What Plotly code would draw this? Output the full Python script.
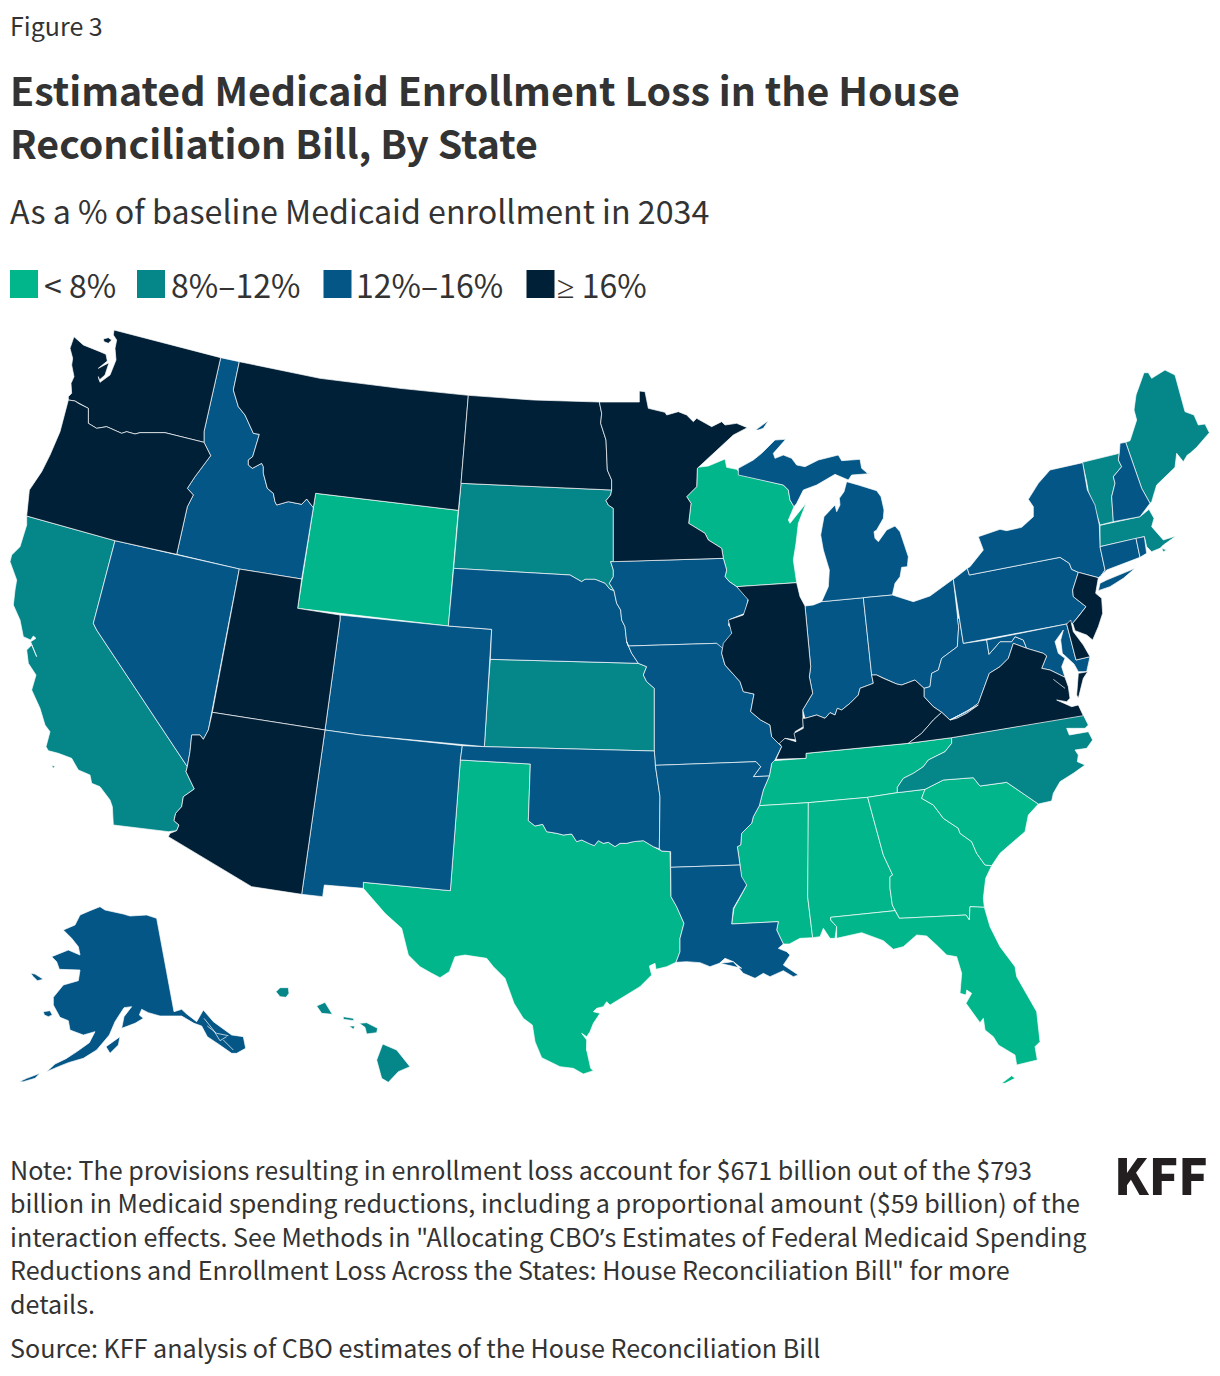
import plotly.graph_objects as go

FONT = "Noto Sans CJK SC"
ALT = "<span style=\"font-family:'Noto Sans'\">%s</span>"
INK = "#333333"
BUCKETS = ["< 8%", "8%–12%", "12%–16%", ALT % "≥" + " 16%"]
COLORS = ["#00B68A", "#058789", "#045687", "#002037"]
LOW = ["WY", "TX", "WI", "TN", "MS", "AL", "GA", "SC", "FL"]
MID = ["CA", "SD", "KS", "NC", "MA", "VT", "ME", "HI"]
HIGH = ["ID", "NV", "CO", "NM", "NE", "IA", "MO", "OK", "AR", "LA", "IN", "MI", "OH", "WV", "PA", "NY", "CT", "NH", "RI", "MD", "AK"]
TOP = ["WA", "OR", "MT", "ND", "MN", "UT", "AZ", "IL", "KY", "VA", "NJ", "DE"]
MEMBERS = [LOW, MID, HIGH, TOP]

TITLE_LINES = ["Estimated Medicaid Enrollment Loss in the House", "Reconciliation Bill, By State"]
SUBTITLE = "As a % of baseline Medicaid enrollment in 2034"
NOTE_LINES = [
    "Note: The provisions resulting in enrollment loss account for $671 billion out of the $793",
    "billion in Medicaid spending reductions, including a proportional amount ($59 billion) of the",
    "interaction effects. See Methods in \"Allocating CBO" + ALT % "’" + "s Estimates of Federal Medicaid Spending",
    "Reductions and Enrollment Loss Across the States: House Reconciliation Bill\" for more",
    "details.",
]
SOURCE = "Source: KFF analysis of CBO estimates of the House Reconciliation Bill"

# Survey sheets the outlines were traced on: sheet origin in page pixels, traced at 3x.
SHEETS = {"A": (0, 325), "B": (0, 620), "C": (400, 380), "D": (360, 680), "E": (720, 410),
          "F": (720, 700), "G": (1050, 360), "H": (950, 440), "I": (0, 890)}

def p(sheet, *v):
    ox, oy = SHEETS[sheet]
    return [(ox + v[i] / 3, oy + v[i + 1] / 3) for i in range(0, len(v), 2)]

OUTLINES = {
 "WA": [p("A",342,15,662,98,612,320,612,352,495,323,460,323,420,323,405,327,380,320,365,325,320,305,290,310,265,295,265,250,235,235,225,228,205,225,205,215,215,205,213,175,222,155,215,120,218,100,210,70,222,35,250,60,300,80,318,88,322,108,295,130,327,113,315,150,298,165,295,155,300,172,330,150,348,105,345,70,350,45,340,30),
        p("A",310,42,325,38,335,45,325,55,312,50)],
 "OR": [p("A",205,225,225,228,235,235,265,250,265,295,290,310,320,305,365,325,380,320,405,327,420,323,460,323,495,323,612,352,632,392,585,455,562,490,580,510,562,545,530,688,345,647,80,573,85,530,88,495,125,440,150,390,180,320,195,265)],
 "ID": [p("A",662,98,718,110,700,195,715,245,735,270,760,325,778,328,758,395,745,405,745,420,757,430,785,415,790,425,790,445,802,490,820,505,825,530,830,540,865,530,890,535,905,538,920,522,940,548,905,762,718,732,530,688,562,545,580,510,562,490,585,455,632,392,612,352,612,320)],
 "MT": [p("A",718,110,960,160,1200,190)+p("C",205,46,183,310,175,391)+p("A",947,505,940,548,920,522,905,538,890,535,865,530,830,540,825,530,820,505,802,490,790,445,790,425,785,415,757,430,745,420,745,405,758,395,778,328,760,325,735,270,715,245,700,195)],
 "WY": [p("A",947,505)+p("C",175,391,145,738)+p("A",893,850)],
 "NV": [p("A",345,647,718,732)+p("B",688,0,637,277,625,330,610,358,600,345,575,345,570,395,562,440,290,30,280,10)],
 "CA": [p("A",80,573,345,647)+p("B",280,10,290,30,562,440,558,455,570,480,583,507,550,530,545,560,527,580,522,602,537,615,530,632,505,635,340,615,337,560,330,540,300,500,275,490,270,465,235,450,215,415,175,400,145,392,138,380,150,335,135,315,120,265,95,210,108,165,85,130,80,90,95,75,110,110,92,65,108,55,100,48,92,60,70,50,60,0)+p("A",40,840,45,795,50,765,30,710,35,690,60,665,80,600),
        p("B",155,437,165,438,160,445)],
 "AZ": [p("B",637,277,975,330,905,823,755,800,505,650,510,640,530,632,537,615,522,602,527,580,545,560,550,530,583,507,570,480,558,455,562,440,570,395,575,345,600,345,610,358,625,330)],
 "UT": [p("A",718,732,905,762,893,850,1020,870)+p("B",1020,0,975,330,637,277,688,0)],
 "CO": [p("A",1020,870)+p("C",145,738,275,748)+p("D",386,0,373,200,0,165)+p("B",975,330,1020,0)],
 "NM": [p("B",975,330)+p("D",0,165,307,197,301,240,271,632,10,607)+p("B",1090,805,973,795,968,830,905,823)],
 "TX": [p("D",10,607,271,632,301,240,511,252,505,422,525,438,548,433,560,455,590,460,610,465,635,462,650,485,665,480,690,492,703,497,715,482,730,490,745,487,765,500,780,490,800,490,820,485,850,482,880,500,905,513,930,515,933,650,950,680,972,730,960,775,960,815,948,847,920,860,888,868,885,850,868,858,875,885,840,920,790,950,750,975,740,965,730,980,710,985,700,995,720,1000,700,1030,690,1055,680,1070,665,1060,680,1080,680,1110,692,1165,700,1172,670,1182,640,1165,600,1160,545,1133,525,1085,517,1035,490,1015,462,970,435,895,400,860,380,835,315,825,285,830,268,875,240,893,215,880,180,860,145,825,135,785,125,745,75,700,40,660,10,625)],
 "KS": [p("C",271,838,715,850,740,860,730,885)+p("D",860,5,883,25,883,213,373,200,386,0)],
 "NE": [p("C",161,565,510,585,545,605,555,598,585,598,615,610,630,628,642,632,650,670,662,690,665,720,675,740,680,785,695,820,715,850,271,838,275,748,145,738)],
 "SD": [p("C",183,310,635,330,632,345,618,362,625,375,640,385,640,545,632,545,640,570,640,590,628,610,642,632,630,628,615,610,585,598,555,598,545,605,510,585,161,565,175,391)],
 "ND": [p("C",205,46,400,60,598,66,605,100,602,130,618,180,622,270,635,300,635,330,183,310)],
 "MN": [p("C",598,66,718,66,718,33,735,35,745,85,795,97,800,105,835,95,860,105,880,125,890,115,935,140,965,125,975,135,1010,130,1042,143,1000,165,945,215,900,258,892,265,890,320,860,350,873,370,866,430,915,460,925,480,965,505,970,535,640,545,640,385,625,375,618,362,632,345,635,330,635,300,622,270,618,180,602,130,605,100)],
 "IA": [p("C",632,545,970,535,980,570,975,590,988,605,1010,620,1045,655,1035,700,990,718,985,735,998,750,990,780,975,790,968,810,950,790,685,798,680,785,675,740,665,720,662,690,650,670,642,632,628,610,640,590,640,570)],
 "WI": [p("C",892,262,925,258,975,237,980,262,1010,268,1025,285)+p("E",190,225,205,240,210,270,222,290,205,330,210,340,258,280,235,340,228,400,220,450,230,518,50,530)+p("C",1010,620,988,605,975,590,980,570,970,535,965,505,925,480,915,460,866,430,873,370,860,350,890,320)],
 "MI": [p("E",55,175,100,150,125,130,165,90,197,88,160,130,165,145,190,135,215,145,230,165,255,170,295,150,355,135,365,152,420,148,425,175,445,192,463,190,395,195,385,210,345,193,290,225,250,240,230,280,222,290,210,270,205,240,190,225,55,195),
        p("E",372,245,380,215,415,225,470,242,483,260,492,300,490,325,470,360,462,365,465,385,475,395,500,360,525,348,540,365,555,410,565,440,562,470,545,472,540,500,525,520,517,555,430,563,305,575,325,530,328,480,310,420,302,375,312,320,345,285,350,305,360,285,358,265),
        p("E",107,60,145,32,130,55,115,60)],
 "IN": [p("E",255,588,280,585,305,575,430,563,455,795,460,820,420,835,415,855,390,880,365,900,352,895,345,915,330,908,315,925,290,915,255,925,248,900,278,850,268,800,272,770)],
 "IL": [p("E",50,530,230,518,240,560,255,588,272,770,268,800,278,850,248,900,250,950,225,965,230,990,195,985,180,1005,155,980,150,945,122,930,92,905,102,852,70,845,60,815,15,765,5,730,10,700,35,670,25,630,70,615,85,570)],
 "OH": [p("E",430,563,517,555,580,575,630,558,700,507,712,625,716,650,712,710,665,745,655,780,635,790,630,830,612,835,585,810,545,825,530,822,490,805,470,795,455,795)],
 "KY": [p("E",455,795,470,795,490,805,530,822,545,825,585,810,612,835,612,860,640,890,665,907,640,930,605,970,565,1000)+p("F",258,160,258,175,168,178,185,140,178,130,195,115,228,125,222,100,250,85,248,55,255,55,290,45,315,55,330,38,345,45,352,25,365,30,390,10,415,-15,420,-35,460,-50)],
 "WV": [p("E",612,835,630,830,635,790,655,780,665,745,712,710,716,650,712,625,718,625,730,700)+p("H",110,600,117,643,150,605,185,605,195,590,220,600,230,625,190,610,175,655,150,680,118,700,85,790,50,815,0,840)+p("E",775,885,740,910,710,925,690,930,665,907,640,890,612,860)],
 "VA": [p("H",190,610,230,625,280,640,290,648,275,685,300,690,345,712,355,740,360,775,350,785,320,780,365,800,385,795,400,827)+p("F",695,113,565,130)+p("E",605,970,640,930,665,907,690,930,710,925,740,910,775,885)+p("H",0,840,50,815,85,790,118,700,150,680,175,655),
        p("H",385,700,413,695,400,715,385,775,380,765)],
 "MD": [p("H",110,600,350,552,378,660,420,650,410,695,385,695,372,672,352,655,337,640,332,600,340,570,315,605,325,640,345,655,335,680,345,712,300,690,275,685,290,648,280,640,230,625,220,600,195,590,185,605,150,605,117,643)],
 "DE": [p("H",350,552,362,540,370,575,400,615,420,650,378,660)],
 "NJ": [p("H",385,397,445,413,437,460,455,475,458,520,445,560,428,600,410,585,375,572,368,550,385,530,408,500,370,470,368,450)],
 "PA": [p("H",52,385,58,405,330,352,358,370,365,388,385,397,368,450,370,470,408,500,385,530,368,550,350,552,40,610,10,418)],
 "NY": [p("H",398,68,412,150,435,195,448,255,450,320,465,390,455,405,445,413,385,397,365,388,358,370,330,352,58,405,52,385,60,380,100,330,85,290,150,268,170,272,215,262,250,230,250,200,235,178,265,130,300,90),
        p("H",445,452,450,430,470,420,555,385,520,415,480,440)],
 "CT": [p("H",450,320,558,295,570,352,510,375,470,390,455,405,465,390)],
 "RI": [p("H",558,295,583,290,590,340,570,352)],
 "MA": [p("H",450,256,570,230,597,208,612,235,605,260,630,290,640,300,678,288,640,315,630,325,605,335,590,320,583,290,450,320),
        p("H",635,325,650,330,640,335)],
 "VT": [p("G",97,307,208,280,205,300,215,320,190,350,195,370,185,410,190,485,150,495,130,430,115,395,110,365)],
 "NH": [p("G",208,280,210,250,227,247,275,385,300,430,270,470,190,485,185,410,195,370,190,350,215,320,205,300)],
 "ME": [p("G",227,247,240,242,260,180,252,150,258,105,282,38,295,38,305,55,345,30,375,45,405,155,432,165,445,195,465,192,478,218,440,262,420,280,412,285,400,305,380,280,375,322,345,350,320,375,305,425,300,430,275,385)],
 "TN": [p("F",160,182,258,175,258,160,565,130,695,113,695,130,675,155,625,180,610,200,580,220,550,235,532,262,532,278,443,292,265,308,118,317,130,270,148,228,155,190)],
 "NC": [p("F",695,113,1090,45,1105,75,1095,85,1060,85,1040,85,1048,105,1080,100,1105,95,1118,120,1100,145,1065,150,1075,165,1072,185,1095,195,1060,220,1020,245,1000,280,995,303,955,312,860,247,780,258,760,233,670,240,615,268,532,278,532,262,550,235,580,220,610,200,625,180,675,155,695,130)],
 "SC": [p("F",615,268,670,240,760,233,780,258,860,247,955,312,925,345,915,395,880,425,840,460,815,497,795,495,770,460,755,425,720,400,715,385,670,355,640,315,605,295)],
 "GA": [p("F",443,292,532,278,615,268,605,295,640,315,670,355,715,385,720,400,755,425,770,460,795,495,815,497,797,535,790,595,793,622,750,620,748,660,738,645,538,655,517,615,510,565,510,530,518,525,490,465)],
 "AL": [p("F",265,308,443,292,490,465,518,525,510,530,510,565,517,615,525,632,332,652,332,660,350,680,345,715,330,715,310,685,300,710,278,713,263,590,265,450)],
 "FL": [p("F",332,652,525,632,538,655,738,645,748,660,750,620,793,622,810,680,840,740,885,800,890,830,950,935,960,1025,945,1040,952,1080,890,1095,885,1065,835,1035,820,1010,795,990,790,955,780,968,738,910,755,880,740,870,738,885,720,880,725,820,710,770,680,765,655,740,620,708,590,705,550,740,520,748,490,722,425,698,350,715,350,680,332,660),
        p("F",845,1150,875,1127,885,1135,855,1150)],
 "MS": [p("F",118,317,265,308,265,450,263,590,278,713,240,715,208,732,190,732,170,690,175,665,35,672,42,625,75,565,80,555,65,545,60,495,52,440,62,435,65,400,95,370,100,350)],
 "LA": [p("F",35,672,175,665,170,690,190,732,175,745,200,755,210,765,190,795,235,825,220,830,190,812,150,830,130,820,105,835,70,820,40,785,0,790)+p("D",1145,865,1120,845,1095,835,1078,850,1050,860,1020,848,980,845,948,847,960,815,960,775,972,730,950,680,933,650,932,562,1140,555,1145,590,1160,615,1120,685)],
 "AR": [p("D",886,256,1188,245)+p("F",122,200,100,230,148,228,130,270,118,317,100,350,95,370,65,400,62,435,52,440,60,495)+p("D",932,562,932,515,905,513,898,507,900,350)],
 "OK": [p("D",307,197,373,200,883,213,886,256,900,350,898,507,880,500,850,482,820,485,800,490,780,490,765,500,745,487,730,490,715,482,703,497,690,492,665,480,650,485,635,462,610,465,590,460,560,455,548,433,525,438,505,422,511,252,301,240)],
 "MO": [p("C",715,850,740,860,730,885)+p("D",860,5,883,25,883,213,886,256,1188,245)+p("F",122,200,100,230,148,228,155,190,165,180,185,140,180,135,155,110,150,75,122,60,92,35,102,-18,70,-25,60,-55,15,-105,5,-140,8,-155)+p("C",950,790,685,798,680,785,695,820)],
 "AK": [p("I",470,85,522,365,545,358,560,372,590,395,600,375,610,360,640,395,695,435,730,440,737,475,710,490,695,490,655,462,622,440,605,408,582,400,545,378,480,378,445,368,425,358,418,375,430,385,405,400,365,415,372,380,395,350,372,353,345,395,328,435,290,480,250,505,205,518,175,530,140,545,165,522,198,506,232,484,268,458,285,425,250,435,210,420,205,392,180,382,160,345,160,322,190,285,235,272,240,240,178,238,170,215,155,200,205,180,240,195,235,170,215,145,190,120,225,105,240,75,270,62,300,50,315,60,340,65,370,72,390,78,440,75),
        p("I",318,470,360,440,355,465,330,490), p("I",92,250,105,252,130,268,112,272,100,260), p("I",130,365,150,362,157,375,145,380,133,375), p("I",58,575,80,565,120,550,105,565,70,575)],
 "HI": [p("I",828,305,840,293,865,293,867,310,858,322,840,320), p("I",950,348,975,337,997,373,965,370), p("I",1030,380,1060,385,1062,392,1030,388), p("I",1048,408,1065,408,1060,418), p("I",1078,400,1100,398,1133,415,1130,428,1100,432,1095,412), p("I",1148,462,1190,480,1230,530,1195,545,1165,577,1145,565,1130,510)],
}
# Narrow water passages that show as white slivers across the land.
CHANNELS = [p("I",612,385,640,420,660,452,680,440), p("I",622,408,650,430,685,437), p("I",670,450,700,480),
            p("D",682,1082,680,1110,692,1135), p("H",310,718,345,745)]

fig = go.Figure()
for bucket, color, members in zip(BUCKETS, COLORS, MEMBERS):
    for st in members:
        xs, ys = [], []
        for ring in OUTLINES[st]:
            xs += [c[0] for c in ring] + [ring[0][0], None]
            ys += [c[1] for c in ring] + [ring[0][1], None]
        fig.add_trace(go.Scatter(x=xs, y=ys, mode="lines", fill="toself", fillcolor=color,
                                 line=dict(color="rgba(255,255,255,0.85)", width=0.8),
                                 name=st, text=bucket, hoverinfo="name+text", showlegend=False))
for ch in CHANNELS:
    fig.add_trace(go.Scatter(x=[c[0] for c in ch], y=[c[1] for c in ch], mode="lines",
                             line=dict(color="white", width=0.7), hoverinfo="skip", showlegend=False))

def label(x, y, text, size, weight=400, color=INK):
    fig.add_annotation(x=x, y=y, xref="x", yref="y", text=text, showarrow=False, xanchor="left",
                       yanchor="middle", borderpad=0, borderwidth=0,
                       font=dict(family=FONT, size=size, color=color, weight=weight))

label(10, 25, "Figure 3", 25)
label(10, 88, TITLE_LINES[0], 39.3, 700)
label(10, 141, TITLE_LINES[1], 39.3, 700)
label(10, 210, SUBTITLE, 32.2)
for sw_x, txt_x, bucket, color in zip([10, 137, 323.5, 526.5], [44, 171, 356, 557], BUCKETS, COLORS):
    fig.add_shape(type="rect", x0=sw_x, x1=sw_x + 28, y0=270, y1=298, fillcolor=color, line_width=0, xref="x", yref="y")
    label(txt_x, 284, bucket, 32)
for y, line in zip([1168.5, 1202, 1235.5, 1268.5, 1302.5], NOTE_LINES):
    label(10, y, line, 25.1)
label(10, 1346.5, SOURCE, 25.1)
label(1114, 1173, "KFF", 49, 900, "#231F20")

fig.update_xaxes(range=[0, 1220], visible=False, fixedrange=True)
fig.update_yaxes(range=[1376, 0], visible=False, fixedrange=True)
fig.update_layout(width=1220, height=1376, margin=dict(l=0, r=0, t=0, b=0),
                  paper_bgcolor="white", plot_bgcolor="white", showlegend=False)
fig.write_html("out.html", config={"displayModeBar": False}, post_script="document.body.style.margin='0';")
